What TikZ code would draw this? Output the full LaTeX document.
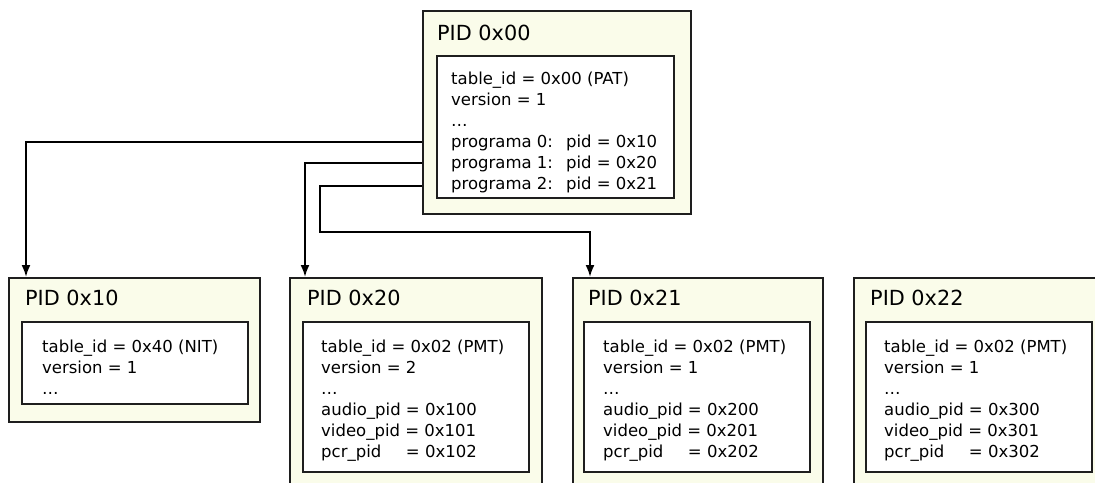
\documentclass[tikz,border=0pt]{standalone}
\usepackage{fontspec}
\setmainfont{DejaVu Sans}
\usetikzlibrary{arrows.meta}

\definecolor{pidfill}{RGB}{250,252,234}
\definecolor{boxline}{RGB}{30,30,30}

\tikzset{
  pidbox/.style={draw=boxline, line width=1.5pt, fill=pidfill, rectangle,
    inner sep=0pt, anchor=north west},
  tablebox/.style={draw=boxline, line width=1.5pt, fill=white, rectangle,
    inner sep=0pt, anchor=north west, minimum width=226pt, minimum height=150pt},
  pidtitle/.style={anchor=base west, inner sep=0pt, font=\fontsize{20.8}{24}\selectfont},
  fields/.style={anchor=north west, inner sep=0pt, align=left,
    font=\fontsize{16.5}{21}\selectfont},
  link/.style={draw=black, line width=2pt, -{Latex[length=12pt,width=9pt]}},
}

\newcommand{\pmtfields}[4]{table\_id = 0x02 (PMT)\\ version = #1\\ …\\
  audio\_pid = #2\\ video\_pid = #3\\ \rlap{pcr\_pid}\phantom{audio\_pid} = #4}

\begin{document}
\begin{tikzpicture}[x=1pt, y=-1pt]
  \useasboundingbox (0,0) rectangle (1095,482);
  \clip (0,0) rectangle (1095,482);

  % program association table
  \node[pidbox, minimum width=268pt, minimum height=203pt] (pat) at (422,10) {};
  \node[pidtitle] (pattitle) at (437,40) {PID 0x00};
  \node[tablebox, minimum width=237pt, minimum height=142pt] (pattab) at (436,55) {};
  \node[fields] (patfields) at (451,72) {table\_id = 0x00 (PAT)\\ version = 1\\ …\\
    programa 0:\hspace{13pt}pid = 0x10\\
    programa 1:\hspace{13pt}pid = 0x20\\
    programa 2:\hspace{13pt}pid = 0x21};

  % network information table
  \node[pidbox, minimum width=251pt, minimum height=144pt] (nit) at (8,277) {};
  \node[pidtitle] (nittitle) at (25,305) {PID 0x10};
  \node[tablebox, minimum height=82pt] (nittab) at (21,321) {};
  \node[fields] (nitfields) at (42,340) {table\_id = 0x40 (NIT)\\ version = 1\\ …};

  % program map tables
  \node[pidbox, minimum width=252pt, minimum height=240pt] (pmta) at (289,277) {};
  \node[pidtitle] (pmtatitle) at (307,305) {PID 0x20};
  \node[tablebox] (pmtatab) at (302,321) {};
  \node[fields] (pmtafields) at (321,340) {\pmtfields{2}{0x100}{0x101}{0x102}};

  \node[pidbox, minimum width=250pt, minimum height=240pt] (pmtb) at (572,277) {};
  \node[pidtitle] (pmtbtitle) at (588,305) {PID 0x21};
  \node[tablebox] (pmtbtab) at (583,321) {};
  \node[fields] (pmtbfields) at (603,340) {\pmtfields{1}{0x200}{0x201}{0x202}};

  \node[pidbox, minimum width=260pt, minimum height=240pt] (pmtc) at (853,277) {};
  \node[pidtitle] (pmtctitle) at (870,305) {PID 0x22};
  \node[tablebox] (pmtctab) at (865,321) {};
  \node[fields] (pmtcfields) at (884,340) {\pmtfields{1}{0x300}{0x301}{0x302}};

  % references from the PAT entries
  \coordinate (bend) at (320,232);
  \draw[link] (pat.west |- 0,142) -| ([xshift=18pt]nit.north west);
  \draw[link] (pat.west |- 0,163) -| ([xshift=16pt]pmta.north west);
  \draw[link] (pat.west |- 0,186) -| (bend) -| ([xshift=18pt]pmtb.north west);
\end{tikzpicture}
\end{document}
